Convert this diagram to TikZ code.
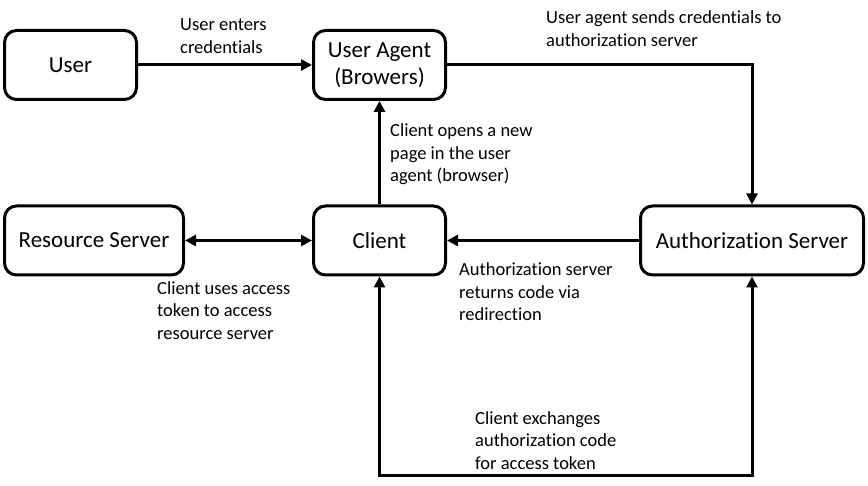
\documentclass[tikz,border=0pt]{standalone}
\usepackage{fontspec}
\setmainfont{Carlito}[Ligatures=NoCommon]
\usetikzlibrary{arrows.meta}

\begin{document}
\begin{tikzpicture}[x=1pt,y=-1pt,
    party/.style={draw, line width=3pt, rounded corners=12pt, inner sep=0pt,
        minimum width=132pt, minimum height=69pt, align=center,
        font=\fontsize{23}{27}\selectfont},
    flow/.style={line width=3pt, -{Triangle[length=11pt,width=11pt]}},
    note/.style={anchor=base west, inner sep=0pt, align=left,
        font=\fontsize{18.5}{22.5}\selectfont}]
            \useasboundingbox (0,0) rectangle (868,486);
            % boxes
            \node[party] (user) at (70.5,65) {User};
            \node[party] (agent) at (379.5,65) {User Agent\\(Browers)};
            \node[party, minimum width=179pt] (resource) at (94,240.5) {Resource Server};
            \node[party] (client) at (379.5,240.5) {Client};
            \node[party, minimum width=223pt] (auth) at (752,240.5) {Authorization Server};
            \coordinate (low) at (752,475);
            % connectors
            \draw[flow] (user) -- (agent);
            \draw[flow] (agent.east) -| (auth.north);
            \draw[flow] (client) -- (agent);
            \draw[flow, {Triangle[length=11pt,width=11pt]}-{Triangle[length=11pt,width=11pt]}] (resource) -- (client);
            \draw[flow] (auth) -- (client);
            \draw[flow, {Triangle[length=11pt,width=11pt]}-{Triangle[length=11pt,width=11pt]}] (client.south) |- (low) -- (auth.south);
            % labels (anchored at the baseline of their last line)
            \node[note] (n1) at (180,53.5) {User enters\\credentials};
            \node[note] (n2) at (546,46.5) {User agent sends credentials to\\authorization server};
            \node[note] (n3) at (390,182) {Client opens a new\\page in the user\\agent (browser)};
            \node[note] (n4) at (157,339.5) {Client uses access\\token to access\\resource server};
            \node[note] (n5) at (459,321) {Authorization server\\returns code via\\redirection};
            \node[note] (n6) at (475,469) {Client exchanges\\authorization code\\for access token};
        \end{tikzpicture}
\end{document}
